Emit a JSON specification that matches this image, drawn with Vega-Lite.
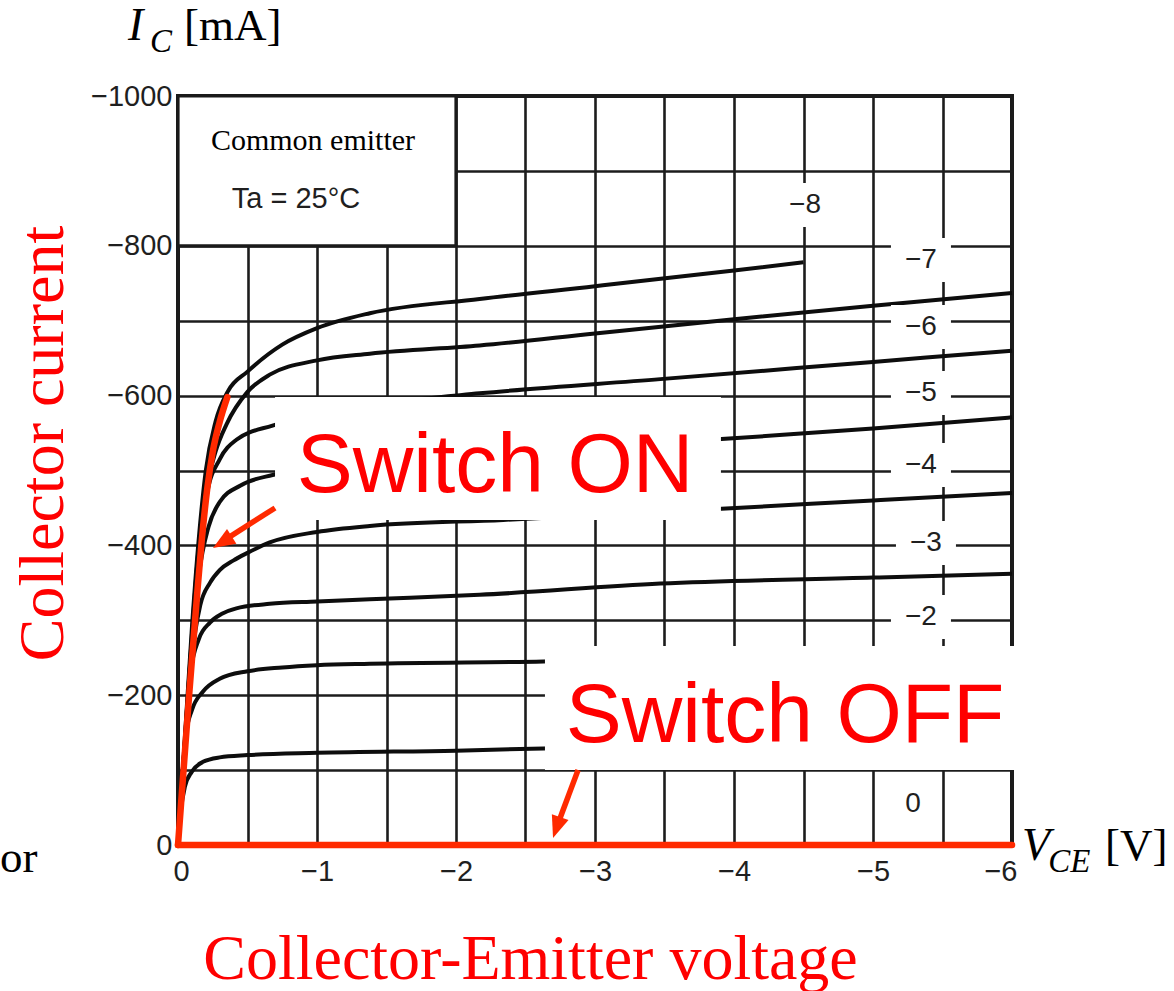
{
  "$schema": "https://vega.github.io/schema/vega-lite/v6.json",
  "width": 834,
  "height": 749,
  "autosize": {"type": "none"},
  "padding": {"left": 178, "top": 96, "right": 162, "bottom": 146},
  "background": "white",
  "config": {"view": {"stroke": "#1a1a1a", "strokeWidth": 4}},
  "encoding": {
    "x": {
      "field": "v", "type": "quantitative",
      "scale": {"domain": [-6, 0], "reverse": true, "nice": false, "zero": false},
      "axis": {
        "values": [-6, -5.5, -5, -4.5, -4, -3.5, -3, -2.5, -2, -1.5, -1, -0.5, 0],
        "tickCount": 40,
        "labelExpr": "datum.value % 1 === 0 ? format(datum.value, 'd') : ''",
        "grid": true, "gridColor": "#1c1c1c", "gridWidth": 2.6,
        "ticks": false, "domain": false, "labelOverlap": false, "labelFlush": true, "labelFlushOffset": 5,
        "labelPadding": 12, "labelFont": "Liberation Sans", "labelFontSize": 29, "labelColor": "#1f1f1f",
        "title": "Collector-Emitter voltage", "titleFont": "Liberation Serif", "titleFontSize": 64,
        "titleFontWeight": "normal", "titleColor": "#ff0000", "titleX": 352, "titleY": 133, "titleBaseline": "alphabetic"
      }
    },
    "y": {
      "field": "ic", "type": "quantitative",
      "scale": {"domain": [-1000, 0], "reverse": true, "nice": false, "zero": false},
      "axis": {
        "values": [-1000, -900, -800, -700, -600, -500, -400, -300, -200, -100, 0],
        "tickCount": 40,
        "labelExpr": "datum.value % 200 === 0 ? format(datum.value, 'd') : ''",
        "grid": true, "gridColor": "#1c1c1c", "gridWidth": 2.6,
        "ticks": false, "domain": false, "labelOverlap": false,
        "labelPadding": 6, "labelFont": "Liberation Sans", "labelFontSize": 29, "labelColor": "#1f1f1f",
        "title": "Collector current", "titleFont": "Liberation Serif", "titleFontSize": 64,
        "titleFontWeight": "normal", "titleColor": "#ff0000", "titleX": -116, "titleY": 347, "titleBaseline": "alphabetic"
      }
    }
  },
  "layer": [
    {
      "data": {"values": [
        {"ib": 0, "v": 0, "ic": 0}, {"ib": 0, "v": -6, "ic": 0},
        {"ib": -1, "v": 0, "ic": 0}, {"ib": -1, "v": -0.02, "ic": -45}, {"ib": -1, "v": -0.05, "ic": -78}, {"ib": -1, "v": -0.1, "ic": -98}, {"ib": -1, "v": -0.18, "ic": -111}, {"ib": -1, "v": -0.3, "ic": -117}, {"ib": -1, "v": -0.5, "ic": -120}, {"ib": -1, "v": -1, "ic": -123}, {"ib": -1, "v": -2, "ic": -126}, {"ib": -1, "v": -2.63, "ic": -129}, {"ib": -1, "v": -4, "ic": -133}, {"ib": -1, "v": -6, "ic": -138},
        {"ib": -2, "v": 0, "ic": 0}, {"ib": -2, "v": -0.03, "ic": -90}, {"ib": -2, "v": -0.06, "ic": -150}, {"ib": -2, "v": -0.1, "ic": -180}, {"ib": -2, "v": -0.18, "ic": -205}, {"ib": -2, "v": -0.3, "ic": -222}, {"ib": -2, "v": -0.5, "ic": -232}, {"ib": -2, "v": -0.75, "ic": -237}, {"ib": -2, "v": -1, "ic": -240}, {"ib": -2, "v": -1.38, "ic": -242}, {"ib": -2, "v": -2.63, "ic": -245}, {"ib": -2, "v": -4, "ic": -252}, {"ib": -2, "v": -6, "ic": -260},
        {"ib": -3, "v": 0, "ic": 0}, {"ib": -3, "v": -0.04, "ic": -110}, {"ib": -3, "v": -0.09, "ic": -230}, {"ib": -3, "v": -0.15, "ic": -275}, {"ib": -3, "v": -0.23, "ic": -297}, {"ib": -3, "v": -0.32, "ic": -309}, {"ib": -3, "v": -0.42, "ic": -316}, {"ib": -3, "v": -0.66, "ic": -322}, {"ib": -3, "v": -1, "ic": -325}, {"ib": -3, "v": -1.38, "ic": -328}, {"ib": -3, "v": -2.17, "ic": -334}, {"ib": -3, "v": -3.47, "ic": -349}, {"ib": -3, "v": -5, "ic": -357}, {"ib": -3, "v": -6, "ic": -362},
        {"ib": -4, "v": 0, "ic": 0}, {"ib": -4, "v": -0.05, "ic": -130}, {"ib": -4, "v": -0.1, "ic": -250}, {"ib": -4, "v": -0.16, "ic": -320}, {"ib": -4, "v": -0.23, "ic": -350}, {"ib": -4, "v": -0.3, "ic": -367}, {"ib": -4, "v": -0.4, "ic": -380}, {"ib": -4, "v": -0.5, "ic": -390}, {"ib": -4, "v": -0.66, "ic": -404}, {"ib": -4, "v": -1, "ic": -418}, {"ib": -4, "v": -1.38, "ic": -426}, {"ib": -4, "v": -2.34, "ic": -434}, {"ib": -4, "v": -3.91, "ic": -449}, {"ib": -4, "v": -5, "ic": -460}, {"ib": -4, "v": -6, "ic": -470},
        {"ib": -5, "v": 0, "ic": 0}, {"ib": -5, "v": -0.05, "ic": -135}, {"ib": -5, "v": -0.1, "ic": -265}, {"ib": -5, "v": -0.15, "ic": -360}, {"ib": -5, "v": -0.22, "ic": -425}, {"ib": -5, "v": -0.3, "ic": -458}, {"ib": -5, "v": -0.45, "ic": -480}, {"ib": -5, "v": -0.68, "ic": -494}, {"ib": -5, "v": -1, "ic": -503}, {"ib": -5, "v": -1.5, "ic": -510}, {"ib": -5, "v": -2.3, "ic": -520}, {"ib": -5, "v": -3.91, "ic": -542}, {"ib": -5, "v": -5, "ic": -556}, {"ib": -5, "v": -6, "ic": -571},
        {"ib": -6, "v": 0, "ic": 0}, {"ib": -6, "v": -0.05, "ic": -140}, {"ib": -6, "v": -0.1, "ic": -275}, {"ib": -6, "v": -0.15, "ic": -385}, {"ib": -6, "v": -0.21, "ic": -470}, {"ib": -6, "v": -0.3, "ic": -515}, {"ib": -6, "v": -0.42, "ic": -541}, {"ib": -6, "v": -0.68, "ic": -560}, {"ib": -6, "v": -1, "ic": -575}, {"ib": -6, "v": -1.5, "ic": -590}, {"ib": -6, "v": -2.17, "ic": -603}, {"ib": -6, "v": -3.47, "ic": -622}, {"ib": -6, "v": -5, "ic": -645}, {"ib": -6, "v": -6, "ic": -660},
        {"ib": -7, "v": 0, "ic": 0}, {"ib": -7, "v": -0.05, "ic": -140}, {"ib": -7, "v": -0.1, "ic": -280}, {"ib": -7, "v": -0.15, "ic": -400}, {"ib": -7, "v": -0.2, "ic": -470}, {"ib": -7, "v": -0.27, "ic": -525}, {"ib": -7, "v": -0.35, "ic": -562}, {"ib": -7, "v": -0.5, "ic": -605}, {"ib": -7, "v": -0.66, "ic": -628}, {"ib": -7, "v": -1, "ic": -647}, {"ib": -7, "v": -1.38, "ic": -656}, {"ib": -7, "v": -2.17, "ic": -667}, {"ib": -7, "v": -3, "ic": -683}, {"ib": -7, "v": -4, "ic": -702}, {"ib": -7, "v": -5, "ic": -720}, {"ib": -7, "v": -6, "ic": -737},
        {"ib": -8, "v": 0, "ic": 0}, {"ib": -8, "v": -0.05, "ic": -145}, {"ib": -8, "v": -0.1, "ic": -290}, {"ib": -8, "v": -0.15, "ic": -410}, {"ib": -8, "v": -0.2, "ic": -500}, {"ib": -8, "v": -0.27, "ic": -565}, {"ib": -8, "v": -0.36, "ic": -606}, {"ib": -8, "v": -0.5, "ic": -632}, {"ib": -8, "v": -0.75, "ic": -668}, {"ib": -8, "v": -1, "ic": -690}, {"ib": -8, "v": -1.38, "ic": -710}, {"ib": -8, "v": -2.17, "ic": -729}, {"ib": -8, "v": -3, "ic": -746}, {"ib": -8, "v": -4, "ic": -767}, {"ib": -8, "v": -4.5, "ic": -778}
      ]},
      "mark": {"type": "line", "color": "#0d0d0d", "strokeWidth": 4, "interpolate": "monotone"},
      "encoding": {"detail": {"field": "ib"}}
    },
    {
      "data": {"values": [{"v": 0, "v2": -2, "ic": -800, "ic2": -1000}]},
      "mark": {"type": "rect", "fill": "white", "stroke": "#1a1a1a", "strokeWidth": 3.2},
      "encoding": {"x2": {"field": "v2"}, "y2": {"field": "ic2"}}
    },
    {
      "data": {"values": [
        {"lab": "−8", "v": -4.511, "ic": -854.5},
        {"lab": "−7", "v": -5.345, "ic": -781.0},
        {"lab": "−6", "v": -5.345, "ic": -691.6},
        {"lab": "−5", "v": -5.345, "ic": -603.5},
        {"lab": "−4", "v": -5.345, "ic": -507.3},
        {"lab": "−3", "v": -5.381, "ic": -403.2},
        {"lab": "−2", "v": -5.345, "ic": -304.4}
      ]},
      "layer": [
        {"mark": {"type": "point", "shape": "M-1,-0.733H1V0.733H-1Z", "size": 3600, "filled": true, "color": "white", "opacity": 1, "strokeWidth": 0}},
        {"mark": {"type": "text", "font": "Liberation Sans", "fontSize": 28, "color": "#1f1f1f", "align": "center", "baseline": "middle"}, "encoding": {"text": {"field": "lab"}}}
      ]
    },
    {
      "data": {"values": [{"lab": "0", "v": -5.288, "ic": -54.7}]},
      "mark": {"type": "text", "font": "Liberation Sans", "fontSize": 28, "color": "#1f1f1f", "align": "center", "baseline": "middle"},
      "encoding": {"text": {"field": "lab"}}
    },
    {
      "data": {"values": [{"t": "Common emitter", "v": -0.971, "ic": -927.9}]},
      "mark": {"type": "text", "font": "Liberation Serif", "fontSize": 30, "color": "#000", "align": "center", "baseline": "alphabetic"},
      "encoding": {"text": {"field": "t"}}
    },
    {
      "data": {"values": [{"t": "Ta = 25°C", "v": -0.849, "ic": -850.5}]},
      "mark": {"type": "text", "font": "Liberation Sans", "fontSize": 29, "color": "#1f1f1f", "align": "center", "baseline": "alphabetic"},
      "encoding": {"text": {"field": "t"}}
    },
    {
      "data": {"values": [
        {"k": "on", "v": 0, "ic": 0}, {"k": "on", "v": -0.04, "ic": -100}, {"k": "on", "v": -0.08, "ic": -200}, {"k": "on", "v": -0.11, "ic": -270}, {"k": "on", "v": -0.14, "ic": -340}, {"k": "on", "v": -0.17, "ic": -405}, {"k": "on", "v": -0.21, "ic": -475}, {"k": "on", "v": -0.25, "ic": -525}, {"k": "on", "v": -0.3, "ic": -565}, {"k": "on", "v": -0.355, "ic": -598},
        {"k": "off", "v": 0, "ic": 0}, {"k": "off", "v": -6, "ic": 0}
      ]},
      "mark": {"type": "line", "color": "#ff2a00", "strokeWidth": 6.5, "interpolate": "monotone", "strokeCap": "round"},
      "encoding": {"detail": {"field": "k"}}
    },
    {
      "data": {"values": [
        {"v": -0.698, "v2": -3.906, "ic": -598.1, "ic2": -433.9},
        {"v": -2.64, "v2": -6.06, "ic": -265.7, "ic2": -100.1}
      ]},
      "mark": {"type": "rect", "fill": "white", "strokeWidth": 0},
      "encoding": {"x2": {"field": "v2"}, "y2": {"field": "ic2"}}
    },
    {
      "data": {"values": [
        {"t": "Switch ON", "v": -2.281, "ic": -471.3},
        {"t": "Switch OFF", "v": -4.367, "ic": -137.5}
      ]},
      "mark": {"type": "text", "font": "Liberation Sans", "fontSize": 84, "color": "#ff0000", "align": "center", "baseline": "alphabetic"},
      "encoding": {"text": {"field": "t"}}
    },
    {
      "data": {"values": [
        {"v": -0.698, "ic": -450, "v2": -0.36, "ic2": -410},
        {"v": -2.878, "ic": -100.1, "v2": -2.741, "ic2": -32}
      ]},
      "mark": {"type": "rule", "color": "#ff2a00", "strokeWidth": 5.5},
      "encoding": {"x2": {"field": "v2"}, "y2": {"field": "ic2"}}
    },
    {
      "data": {"values": [{"v": -0.252, "ic": -396.5}]},
      "mark": {"type": "point", "shape": "M0,0L-0.8,2L0.8,2Z", "size": 484, "filled": true, "color": "#ff2a00", "opacity": 1, "strokeWidth": 0, "angle": 238}
    },
    {
      "data": {"values": [{"v": -2.698, "ic": -9.3}]},
      "mark": {"type": "point", "shape": "M0,0L-0.8,2L0.8,2Z", "size": 484, "filled": true, "color": "#ff2a00", "opacity": 1, "strokeWidth": 0, "angle": 199}
    },
    {
      "data": {"values": [{"t": "I", "v": 0.36, "ic": -1074.8}, {"t": "V", "v": -6.072, "ic": 20}]},
      "mark": {"type": "text", "font": "Liberation Serif", "fontSize": 46, "fontStyle": "italic", "color": "#000", "align": "left", "baseline": "alphabetic"},
      "encoding": {"text": {"field": "t"}}
    },
    {
      "data": {"values": [{"t": "C", "v": 0.201, "ic": -1058.7}, {"t": "CE", "v": -6.26, "ic": 36}]},
      "mark": {"type": "text", "font": "Liberation Serif", "fontSize": 33, "fontStyle": "italic", "color": "#000", "align": "left", "baseline": "alphabetic"},
      "encoding": {"text": {"field": "t"}}
    },
    {
      "data": {"values": [{"t": "[mA]", "v": -0.043, "ic": -1074.8}, {"t": "[V]", "v": -6.669, "ic": 20}, {"t": "or", "v": 1.281, "ic": 36}]},
      "mark": {"type": "text", "font": "Liberation Serif", "fontSize": 45, "color": "#000", "align": "left", "baseline": "alphabetic"},
      "encoding": {"text": {"field": "t"}}
    }
  ]
}
